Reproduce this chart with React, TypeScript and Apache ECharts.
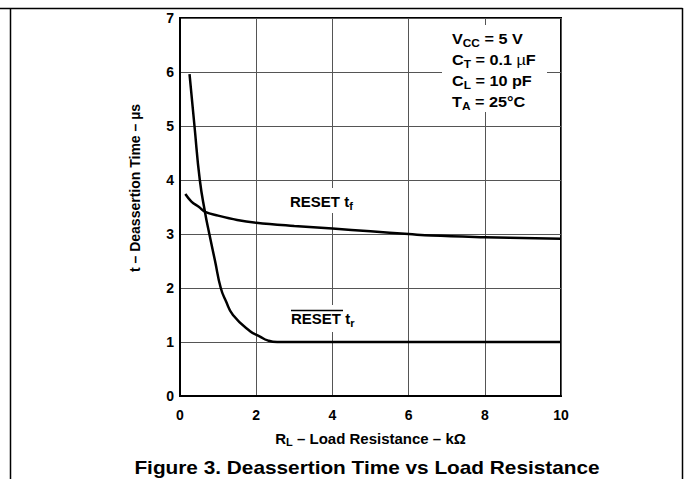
import React, { useEffect, useRef } from "react";
import * as echarts from "echarts";

// RESET t_f (falling) curve: load resistance (kΩ) vs time (µs)
const tfX = [0.14, 0.3, 0.5, 0.66, 1.0, 1.5, 2, 3, 4, 5, 6, 6.6, 8, 10];
const tfY = [3.74, 3.6, 3.5, 3.41, 3.34, 3.26, 3.21, 3.15, 3.1, 3.05, 3.0, 2.97, 2.94, 2.91];

// RESET-bar t_r (rising) curve
const trX = [0.25, 0.38, 0.52, 0.66, 0.77, 0.92, 1.07, 1.21, 1.39, 1.84, 2.1, 2.3, 2.55, 4, 6, 8, 10];
const trY = [5.96, 5.0, 4.0, 3.39, 3.0, 2.5, 2.0, 1.75, 1.5, 1.2, 1.1, 1.03, 1.0, 1, 1, 1, 1];

const xTicks = { min: 0, max: 10, interval: 2 };
const yTicks = { min: 0, max: 7, interval: 1 };

const FONT = "'Liberation Sans', Arial, Helvetica, sans-serif";

export default function App() {
  const ref = useRef<HTMLDivElement>(null);

  useEffect(() => {
    if (!ref.current) return;
    const chart = echarts.init(ref.current, undefined, { renderer: "svg" });

    const pairs = (xs: number[], ys: number[]) => xs.map((x, i) => [x, ys[i]]);

    const base = { fontFamily: FONT, fontWeight: "bold" as const, color: "#000" };
    const richCond = {
      b: { ...base, fontSize: 15, lineHeight: 21 },
      m: { fontFamily: FONT, fontWeight: "normal" as const, color: "#000", fontSize: 15, lineHeight: 21 },
      s: { ...base, fontSize: 11, lineHeight: 12, verticalAlign: "bottom" as const },
    };
    const richLbl = {
      b: { ...base, fontSize: 15, lineHeight: 20 },
      s: { ...base, fontSize: 11, lineHeight: 11, verticalAlign: "bottom" as const },
    };

    chart.setOption({
      animation: false,
      backgroundColor: "#fff",
      grid: {
        left: 180,
        right: 123,
        top: 18,
        bottom: 83,
        show: true,
        borderColor: "#000",
        borderWidth: 2,
        backgroundColor: "transparent",
      },
      xAxis: {
        type: "value",
        min: xTicks.min,
        max: xTicks.max,
        interval: xTicks.interval,
        axisLine: { show: true, lineStyle: { color: "#000", width: 2 } },
        axisTick: { show: false },
        splitLine: { show: true, lineStyle: { color: "#555", width: 1 } },
        axisLabel: { ...base, fontSize: 14, margin: 12 },
        name: "{b|R}{s|L}{b| – Load Resistance – kΩ}",
        nameLocation: "middle",
        nameGap: 33,
        nameTextStyle: {
          rich: {
            b: { ...base, fontSize: 15, lineHeight: 18 },
            s: { ...base, fontSize: 11, lineHeight: 11, verticalAlign: "bottom" },
          },
        },
      },
      yAxis: {
        type: "value",
        min: yTicks.min,
        max: yTicks.max,
        interval: yTicks.interval,
        axisLine: { show: true, lineStyle: { color: "#000", width: 2 } },
        axisTick: { show: false },
        splitLine: { show: true, lineStyle: { color: "#555", width: 1 } },
        axisLabel: { ...base, fontSize: 14, margin: 6, padding: [6, 0, 0, 0] },
      },
      series: [
        {
          name: "RESET tf",
          type: "line",
          data: pairs(tfX, tfY),
          smooth: 0.4,
          showSymbol: false,
          lineStyle: { color: "#000", width: 2.5 },
          z: 5,
        },
        {
          name: "RESET tr",
          type: "line",
          data: pairs(trX, trY),
          smooth: 0.5,
          showSymbol: false,
          lineStyle: { color: "#000", width: 2.5 },
          z: 5,
        },
      ],
      graphic: [
        // outer frame
        { type: "line", shape: { x1: 0, y1: 8.5, x2: 682.5, y2: 8.5 }, style: { stroke: "#000", lineWidth: 1.5 } },
        { type: "line", shape: { x1: 10.5, y1: 8, x2: 10.5, y2: 479 }, style: { stroke: "#000", lineWidth: 1.5 } },
        { type: "line", shape: { x1: 682.5, y1: 8, x2: 682.5, y2: 479 }, style: { stroke: "#000", lineWidth: 1.5 } },
        // white backgrounds for annotations
        { type: "rect", shape: { x: 442, y: 25, width: 105, height: 87 }, style: { fill: "#fff" }, z: 10 },
        { type: "rect", shape: { x: 286, y: 188, width: 80, height: 25 }, style: { fill: "#fff" }, z: 10 },
        { type: "rect", shape: { x: 287, y: 305, width: 80, height: 27 }, style: { fill: "#fff" }, z: 10 },
        // conditions
        {
          type: "text",
          x: 452,
          y: 28,
          scaleX: 1.08,
          z: 11,
          style: {
            text: "{b|V}{s|CC}{b| = 5 V}\n{b|C}{s|T}{b| = 0.1 }{m|µ}{b|F}\n{b|C}{s|L}{b| = 10 pF}\n{b|T}{s|A}{b| = 25°C}",
            rich: richCond,
          },
        },
        // curve labels
        {
          type: "text",
          x: 290,
          y: 191,
          z: 11,
          style: { text: "{b|RESET t}{s|f}", rich: richLbl },
        },
        {
          type: "text",
          x: 291,
          y: 308,
          z: 11,
          style: { text: "{b|RESET t}{s|r}", rich: richLbl },
        },
        { type: "line", shape: { x1: 291, y1: 310.5, x2: 343, y2: 310.5 }, style: { stroke: "#000", lineWidth: 1.5 }, z: 12 },
        // y-axis name
        {
          type: "text",
          x: 135,
          y: 188,
          rotation: Math.PI / 2,
          style: {
            text: "t – Deassertion Time – µs",
            fontFamily: FONT,
            fontWeight: "bold",
            fontSize: 14,
            fill: "#000",
            align: "center",
            verticalAlign: "middle",
          },
        },
        // figure title
        {
          type: "text",
          x: 367,
          y: 467,
          scaleX: 1.095,
          style: {
            text: "Figure 3. Deassertion Time vs Load Resistance",
            fontFamily: FONT,
            fontWeight: "bold",
            fontSize: 19,
            fill: "#000",
            align: "center",
            verticalAlign: "middle",
          },
        },
      ],
    });

    return () => chart.dispose();
  }, []);

  return (
    <div
      ref={ref}
      style={{ position: "fixed", left: 0, top: 0, width: 684, height: 479, background: "#fff" }}
    />
  );
}
